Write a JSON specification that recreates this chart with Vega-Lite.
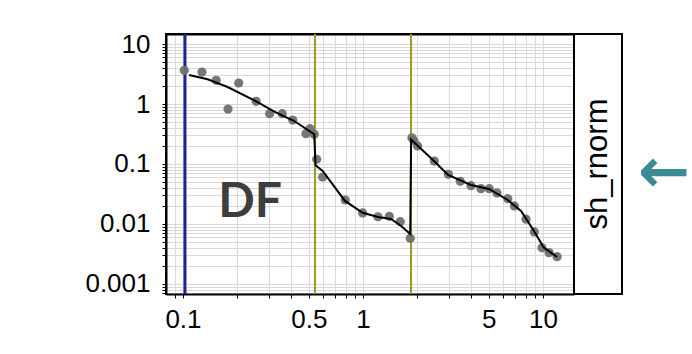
{
  "$schema": "https://vega.github.io/schema/vega-lite/v6.json",
  "background": "white",
  "padding": {"left": 83, "top": 30, "right": 0, "bottom": 0},
  "config": {
    "font": "Liberation Sans",
    "axis": {"labelFont": "Liberation Sans", "labelFontSize": 26, "labelColor": "black", "tickColor": "#000000", "gridColor": "#d9d9d9", "gridWidth": 1, "domainColor": "#000000", "domainWidth": 2}
  },
  "datasets": {
    "pts": [
      {"x": 0.1017, "y": 3.65}, {"x": 0.1275, "y": 3.41}, {"x": 0.153, "y": 2.48}, {"x": 0.178, "y": 0.825},
      {"x": 0.204, "y": 2.24}, {"x": 0.255, "y": 1.11}, {"x": 0.303, "y": 0.69}, {"x": 0.356, "y": 0.69},
      {"x": 0.407, "y": 0.54}, {"x": 0.482, "y": 0.32}, {"x": 0.508, "y": 0.388}, {"x": 0.536, "y": 0.313},
      {"x": 0.553, "y": 0.12}, {"x": 0.597, "y": 0.0607}, {"x": 0.797, "y": 0.0251}, {"x": 0.996, "y": 0.0153},
      {"x": 1.21, "y": 0.0132}, {"x": 1.40, "y": 0.0134}, {"x": 1.61, "y": 0.0109}, {"x": 1.83, "y": 0.00578},
      {"x": 1.87, "y": 0.274}, {"x": 1.92, "y": 0.245}, {"x": 2.01, "y": 0.2}, {"x": 2.49, "y": 0.112}, {"x": 2.98, "y": 0.0673},
      {"x": 3.47, "y": 0.0515}, {"x": 3.98, "y": 0.0435}, {"x": 4.52, "y": 0.0388}, {"x": 5.03, "y": 0.0388},
      {"x": 5.55, "y": 0.0329}, {"x": 6.37, "y": 0.0264}, {"x": 6.93, "y": 0.02}, {"x": 8.05, "y": 0.012},
      {"x": 8.95, "y": 0.00736}, {"x": 9.87, "y": 0.004}, {"x": 10.8, "y": 0.00333}, {"x": 11.97, "y": 0.00285}
    ],
    "fit": [
      {"o": 1, "x": 0.108, "y": 3.04}, {"o": 2, "x": 0.137, "y": 2.58}, {"o": 3, "x": 0.177, "y": 1.92},
      {"o": 4, "x": 0.249, "y": 1.15}, {"o": 5, "x": 0.322, "y": 0.745}, {"o": 6, "x": 0.415, "y": 0.521},
      {"o": 7, "x": 0.536, "y": 0.313}, {"o": 8, "x": 0.545, "y": 0.095}, {"o": 9, "x": 0.597, "y": 0.0764},
      {"o": 10, "x": 0.794, "y": 0.0242}, {"o": 11, "x": 0.996, "y": 0.0154}, {"o": 12, "x": 1.21, "y": 0.0131},
      {"o": 13, "x": 1.43, "y": 0.0121}, {"o": 14, "x": 1.63, "y": 0.00926}, {"o": 15, "x": 1.83, "y": 0.0068},
      {"o": 16, "x": 1.85, "y": 0.255}, {"o": 17, "x": 2.48, "y": 0.112}, {"o": 18, "x": 2.97, "y": 0.0656},
      {"o": 19, "x": 3.98, "y": 0.0447}, {"o": 20, "x": 5.01, "y": 0.0383}, {"o": 21, "x": 6.37, "y": 0.0251},
      {"o": 22, "x": 7.55, "y": 0.0165}, {"o": 23, "x": 8.91, "y": 0.00764}, {"o": 24, "x": 10.1, "y": 0.00403},
      {"o": 25, "x": 11.97, "y": 0.00282}
    ],
    "vlines": [
      {"x": 0.1026, "kind": "df"}, {"x": 0.541, "kind": "edge"}, {"x": 1.848, "kind": "edge"}
    ],
    "label": [{"x": 0.236, "y": 0.022, "text": "DF"}],
    "strip": [{"text": "sh_rnorm"}],
    "arrow": [{"text": "←"}]
  },
  "hconcat": [
    {
      "width": 408,
      "height": 260,
      "view": {"stroke": "#000000", "strokeWidth": 2},
      "resolve": {"axis": {"x": "independent", "y": "independent"}},
      "layer": [
        {
          "encoding": {
            "x": {"field": "x", "type": "quantitative", "title": null,
              "scale": {"type": "log", "domain": [0.0805, 14.86], "nice": false},
              "axis": {"values": [0.09, 0.1, 0.2, 0.3, 0.4, 0.5, 0.6, 0.7, 0.8, 0.9, 1, 2, 3, 4, 5, 6, 7, 8, 9, 10],
                "labelExpr": "indexof([0.1, 0.5, 1, 5, 10], datum.value) >= 0 ? format(datum.value, '~g') : ''",
                "grid": true, "tickSize": 4, "labelPadding": 8, "labelFlush": false, "domain": true}},
            "y": {"field": "y", "type": "quantitative", "title": null,
              "scale": {"type": "log", "domain": [0.00068, 14.7], "nice": false},
              "axis": {"values": [0.0007, 0.0008, 0.0009, 0.001, 0.002, 0.003, 0.004, 0.005, 0.006, 0.007, 0.008, 0.009, 0.01, 0.02, 0.03, 0.04, 0.05, 0.06, 0.07, 0.08, 0.09, 0.1, 0.2, 0.3, 0.4, 0.5, 0.6, 0.7, 0.8, 0.9, 1, 2, 3, 4, 5, 6, 7, 8, 9, 10],
                "labelExpr": "indexof([0.001, 0.01, 0.1, 1, 10], datum.value) >= 0 ? format(datum.value, '~g') : ''",
                "grid": true, "tickSize": 4, "labelPadding": 12, "labelFlush": false, "domain": true}}
          },
          "layer": [
            {"data": {"name": "vlines"}, "mark": {"type": "rule"},
              "encoding": {"y": null,
                "color": {"field": "kind", "type": "nominal", "legend": null, "scale": {"domain": ["df", "edge"], "range": ["#1a2496", "#9c9a1c"]}},
                "strokeWidth": {"field": "kind", "type": "nominal", "legend": null, "scale": {"domain": ["df", "edge"], "range": [3, 2]}}}},
            {"data": {"name": "pts"}, "mark": {"type": "circle", "color": "#707070", "size": 85, "opacity": 0.95}},
            {"data": {"name": "label"}, "mark": {"type": "text", "font": "Lato", "fontWeight": "bold", "fontSize": 48, "color": "#3d3d3d", "align": "center", "baseline": "middle"},
              "encoding": {"text": {"field": "text"}}}
          ]
        },
        {
          "data": {"name": "fit"},
          "mark": {"type": "line", "color": "black", "strokeWidth": 2},
          "encoding": {
            "x": {"field": "x", "type": "quantitative", "title": null,
              "axis": {"labels": false, "ticks": false, "grid": false, "domain": true, "orient": "top"}},
            "y": {"field": "y", "type": "quantitative", "title": null,
              "axis": {"labels": false, "ticks": false, "grid": false, "domain": true, "orient": "right"}},
            "order": {"field": "o", "type": "quantitative"}
          }
        }
      ]
    },
    {
      "width": 48,
      "height": 260,
      "view": {"stroke": "#000000", "strokeWidth": 2, "fill": "white"},
      "layer": [
        {"data": {"name": "strip"}, "mark": {"type": "text", "font": "Liberation Sans", "fontSize": 31, "angle": 270, "align": "center", "baseline": "middle", "color": "black"},
          "encoding": {"text": {"field": "text"}}},
        {"data": {"name": "arrow"}, "mark": {"type": "text", "font": "DejaVu Sans", "fontWeight": "bold", "fontSize": 62, "color": "#3b8a94", "align": "center", "baseline": "middle", "dx": 66, "dy": 9},
          "encoding": {"text": {"field": "text"}}}
      ]
    }
  ],
  "spacing": 0,
  "bounds": "flush"
}
